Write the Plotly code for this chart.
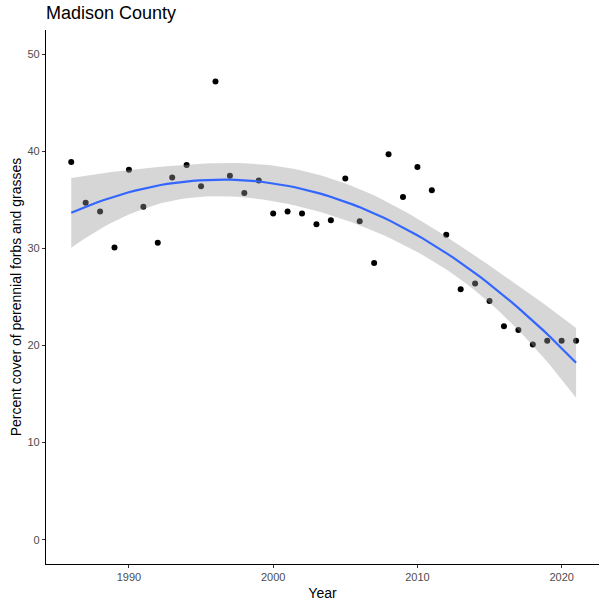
import numpy as np
import plotly.graph_objects as go

years = list(range(1986, 2022))
cover = [38.9, 34.7, 33.8, 30.1, 38.1, 34.3, 30.6, 37.3, 38.6, 36.4,
         47.2, 37.5, 35.7, 37.0, 33.6, 33.8, 33.6, 32.5, 32.9, 37.2,
         32.8, 28.5, 39.7, 35.3, 38.4, 36.0, 31.4, 25.8, 26.4, 24.6,
         22.0, 21.6, 20.1, 20.5, 20.5, 20.5]

x_ticks = [1990, 2000, 2010, 2020]
y_ticks = [0, 10, 20, 30, 40, 50]

# quadratic smooth with 95% confidence band (statistical transform of data)
x = np.array(years, dtype=float)
y = np.array(cover, dtype=float)
xc = x - x.mean()
X = np.column_stack([np.ones_like(xc), xc, xc ** 2])
beta, *_ = np.linalg.lstsq(X, y, rcond=None)
resid = y - X @ beta
dof = len(y) - 3
s2 = resid @ resid / dof
XtX_inv = np.linalg.inv(X.T @ X)
t_crit = 2.0345
xg = np.linspace(x.min(), x.max(), 80)
xgc = xg - x.mean()
Xg = np.column_stack([np.ones_like(xgc), xgc, xgc ** 2])
fit = Xg @ beta
se = np.sqrt(np.einsum('ij,jk,ik->i', Xg, XtX_inv, Xg) * s2)
lo = fit - t_crit * se
hi = fit + t_crit * se

W, H = 599, 603
fig = go.Figure()
fig.add_trace(go.Scatter(x=years, y=cover, mode='markers',
                         marker=dict(color='black', size=6), showlegend=False,
                         hoverinfo='skip'))
fig.add_trace(go.Scatter(x=np.concatenate([xg, xg[::-1]]),
                         y=np.concatenate([hi, lo[::-1]]),
                         fill='toself', fillcolor='rgba(153,153,153,0.4)',
                         line=dict(width=0), mode='lines', showlegend=False,
                         hoverinfo='skip'))
fig.add_trace(go.Scatter(x=xg, y=fit, mode='lines',
                         line=dict(color='#3366FF', width=2.2), showlegend=False))

font = 'Liberation Sans, Arial, sans-serif'
fig.update_layout(
    width=W, height=H,
    margin=dict(l=46, r=0, t=30, b=39),
    paper_bgcolor='white', plot_bgcolor='white',
    font=dict(family=font),
    title=dict(text='Madison County', x=46 / W, xanchor='left', xref='container',
               y=1 - 13 / H, yanchor='middle', yref='container',
               font=dict(size=18, color='black', family=font)),
)
fig.update_xaxes(range=[1984.25, 2022.59], tickvals=x_ticks,
                 showgrid=False, zeroline=False, showline=True,
                 linecolor='black', linewidth=1.2, ticks='outside', ticklen=3,
                 tickcolor='#333333', tickfont=dict(size=11, color='#4D4D4D'),
                 title=dict(text='Year', font=dict(size=14, color='black'), standoff=5))
fig.update_yaxes(range=[-2.5, 52.5], tickvals=y_ticks,
                 showgrid=False, zeroline=False, showline=True,
                 linecolor='black', linewidth=1.2, ticks='outside', ticklen=3,
                 tickcolor='#333333', tickfont=dict(size=11, color='#4D4D4D'),
                 title=dict(text='Percent cover of perennial forbs and grasses',
                            font=dict(size=14, color='black'), standoff=2))
fig.write_html('out.html', config={'displayModeBar': False},
               post_script="document.body.style.margin='0';document.body.style.overflow='hidden';")
